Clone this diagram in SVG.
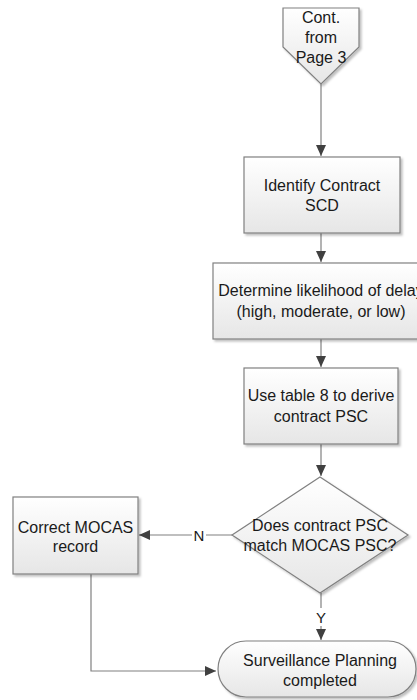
<svg xmlns="http://www.w3.org/2000/svg" width="417" height="700" viewBox="0 0 417 700">
<defs>
<linearGradient id="g" x1="0" y1="0" x2="0" y2="1">
<stop offset="0" stop-color="#ffffff"/>
<stop offset="1" stop-color="#e6e6e6"/>
</linearGradient>
<filter id="sh" x="-10%" y="-10%" width="130%" height="130%">
<feDropShadow dx="2" dy="2" stdDeviation="1.2" flood-color="#000" flood-opacity="0.25"/>
</filter>
<marker id="arr" markerWidth="12" markerHeight="12" refX="11" refY="6" orient="auto" markerUnits="userSpaceOnUse">
<path d="M0,1 L11,6 L0,11 Z" fill="#404040"/>
</marker>
</defs>
<style>
.shape{fill:url(#g);stroke:#808080;stroke-width:1.2;filter:url(#sh)}
.t{font-family:"Liberation Sans",Arial,sans-serif;font-size:16px;fill:#1a1a1a;text-anchor:middle;dominant-baseline:central}
.c{fill:none;stroke:#808080;stroke-width:1.2}
.lbl{font-family:"Liberation Sans",Arial,sans-serif;font-size:15px;fill:#1a1a1a;text-anchor:middle;dominant-baseline:central}
</style>
<g id="connectors">
<path class="c" d="M321,84 L321,156" marker-end="url(#arr)"/>
<path class="c" d="M321,233 L321,262" marker-end="url(#arr)"/>
<path class="c" d="M321,339 L321,367" marker-end="url(#arr)"/>
<path class="c" d="M321,444 L321,476" marker-end="url(#arr)"/>
<path class="c" d="M232,535 L139,535" marker-end="url(#arr)"/>
<rect x="192" y="526" width="14" height="18" fill="#fff"/>
<text class="lbl" x="199" y="535">N</text>
<path class="c" d="M321,593 L321,640" marker-end="url(#arr)"/>
<rect x="314" y="608" width="14" height="18" fill="#fff"/>
<text class="lbl" x="321" y="617">Y</text>
<path class="c" d="M91,574 L91,671 L216,671" marker-end="url(#arr)"/>
</g>
<g id="offpage">
<path class="shape" d="M283,8 L359,8 L359,47 L321,84 L283,47 Z"/>
<text class="t" x="321" y="17">Cont.</text>
<text class="t" x="321" y="37">from</text>
<text class="t" x="321" y="57">Page 3</text>
</g>
<g id="identify">
<rect class="shape" x="244" y="157" width="156" height="76"/>
<text class="t" x="322" y="185">Identify Contract</text>
<text class="t" x="322" y="205">SCD</text>
</g>
<g id="determine">
<rect class="shape" x="213" y="263" width="216" height="76"/>
<text class="t" x="321" y="290">Determine likelihood of delay</text>
<text class="t" x="321" y="311">(high, moderate, or low)</text>
</g>
<g id="usetable">
<rect class="shape" x="244" y="368" width="154" height="76"/>
<text class="t" x="321" y="395">Use table 8 to derive</text>
<text class="t" x="321" y="416">contract PSC</text>
</g>
<g id="decision">
<path class="shape" d="M320,477 L408,535 L320,593 L232,535 Z"/>
<text class="t" x="320" y="525">Does contract PSC</text>
<text class="t" x="320" y="545">match MOCAS PSC?</text>
</g>
<g id="correct">
<rect class="shape" x="13" y="497" width="125" height="77"/>
<text class="t" x="75.5" y="527">Correct MOCAS</text>
<text class="t" x="75.5" y="546">record</text>
</g>
<g id="terminal">
<rect class="shape" x="218" y="641" width="198" height="56" rx="28" ry="28"/>
<text class="t" x="320" y="660">Surveillance Planning</text>
<text class="t" x="320" y="680">completed</text>
</g>
</svg>
